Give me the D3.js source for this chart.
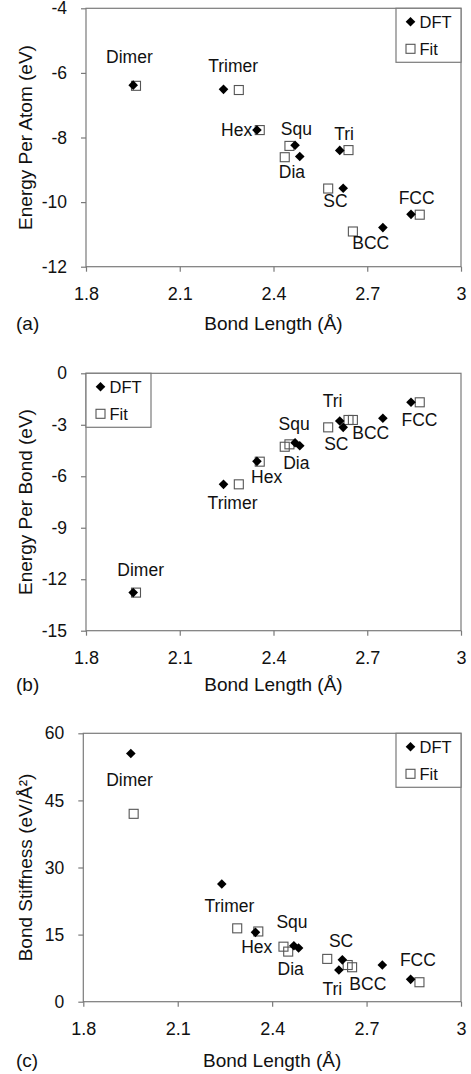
<!DOCTYPE html>
<html>
<head>
<meta charset="utf-8">
<script src="https://cdn.jsdelivr.net/npm/d3@7"></script>
<style>
  body { margin: 0; background: #fff; }
  svg { display: block; font-family: "Liberation Sans", Arial, sans-serif; }
</style>
</head>
<body>
<svg id="chart" width="471" height="1074"></svg>
<script>
// structures, in the same order for every series
const structures = ["Dimer", "Trimer", "Hex", "Squ", "Dia", "Tri", "SC", "BCC", "FCC"];

// bond lengths (Å)
const dftBondLength = [1.951, 2.240, 2.347, 2.469, 2.484, 2.612, 2.623, 2.750, 2.840];
const fitBondLength = [1.960, 2.289, 2.356, 2.451, 2.436, 2.640, 2.575, 2.654, 2.868];

// (a) energy per atom (eV)
const dftEnergyAtom = [-6.38, -6.51, -7.77, -8.24, -8.59, -8.40, -9.57, -10.79, -10.38];
const fitEnergyAtom = [-6.40, -6.53, -7.77, -8.26, -8.61, -8.39, -9.58, -10.91, -10.39];

// (b) energy per bond (eV)
const dftEnergyBond = [-12.78, -6.47, -5.13, -4.05, -4.22, -2.78, -3.15, -2.62, -1.69];
const fitEnergyBond = [-12.78, -6.47, -5.15, -4.14, -4.28, -2.72, -3.15, -2.72, -1.69];

// (c) bond stiffness (eV/Å²)
const dftStiffness = [55.5, 26.3, 15.5, 12.5, 12.0, 7.1, 9.35, 8.2, 5.0];
const fitStiffness = [42.0, 16.4, 15.7, 11.2, 12.3, 8.2, 9.57, 7.7, 4.35];

// tick labels
const xTicks = [1.8, 2.1, 2.4, 2.7, 3];
const yTicksA = [-12, -10, -8, -6, -4];
const yTicksB = [-15, -12, -9, -6, -3, 0];
const yTicksC = [0, 15, 30, 45, 60];

// where each structure name sits, in data units of its panel
const labelPosA = [[1.939, -5.70], [2.271, -5.96], [2.282, -7.94], [2.473, -7.92], [2.459, -9.26],
                   [2.626, -8.08], [2.598, -10.16], [2.711, -11.46], [2.858, -10.07]];
const labelPosB = [[1.975, -11.79], [2.269, -7.91], [2.378, -6.41], [2.466, -3.30], [2.473, -5.59],
                   [2.589, -1.98], [2.601, -4.47], [2.711, -3.83], [2.867, -3.05]];
const labelPosC = [[1.947, 48.2], [2.264, 20.0], [2.351, 10.95], [2.463, 16.4], [2.459, 5.97],
                   [2.591, 1.5], [2.619, 12.3], [2.704, 2.6], [2.863, 8.05]];

const svg = d3.select("#chart");
const axisColor = "#7a7a7a";

const panels = [
  { letter: "(a)", left: 86, right: 461, top: 8.3, bottom: 266.7, yDomain: [-12, -4], yTicks: yTicksA,
    dft: dftEnergyAtom, fit: fitEnergyAtom, labels: labelPosA, ytitle: "Energy Per Atom (eV)",
    titleY: 330, legend: "right" },
  { letter: "(b)", left: 86, right: 461, top: 373.3, bottom: 630.7, yDomain: [-15, 0], yTicks: yTicksB,
    dft: dftEnergyBond, fit: fitEnergyBond, labels: labelPosB, ytitle: "Energy Per Bond (eV)",
    titleY: 691, legend: "left" },
  { letter: "(c)", left: 83.3, right: 461, top: 733.3, bottom: 1001.7, yDomain: [0, 60], yTicks: yTicksC,
    dft: dftStiffness, fit: fitStiffness, labels: labelPosC, ytitle: "Bond Stiffness (eV/Å²)",
    titleY: 1067, legend: "right" }
];

const diamond = r => `M0,${-r}L${r},0L0,${r}L${-r},0Z`;
const plain = d => String(d); // hyphen minus, as in the figure

panels.forEach(p => {
  const g = svg.append("g");

  const xScale = d3.scaleLinear().domain([1.8, 3]).range([p.left, p.right]);
  const yScale = d3.scaleLinear().domain(p.yDomain).range([p.bottom, p.top]);

  // frame around the plot area
  g.append("rect")
    .attr("x", p.left).attr("y", p.top)
    .attr("width", p.right - p.left).attr("height", p.bottom - p.top)
    .attr("fill", "none").attr("stroke", axisColor).attr("stroke-width", 1.2);

  // x axis
  g.append("g")
    .attr("transform", `translate(0,${p.bottom})`)
    .call(d3.axisBottom(xScale).tickValues(xTicks).tickFormat(plain).tickSize(5).tickPadding(16))
    .call(a => a.select(".domain").remove())
    .call(a => a.selectAll(".tick line").attr("stroke", axisColor).attr("stroke-width", 1.2))
    .call(a => a.selectAll(".tick text").attr("fill", "#111").attr("font-size", 18).attr("font-family", null));

  // y axis
  g.append("g")
    .attr("transform", `translate(${p.left},0)`)
    .call(d3.axisLeft(yScale).tickValues(p.yTicks).tickFormat(plain).tickSize(5).tickPadding(14))
    .call(a => a.select(".domain").remove())
    .call(a => a.selectAll(".tick line").attr("stroke", axisColor).attr("stroke-width", 1.2))
    .call(a => a.selectAll(".tick text").attr("fill", "#111").attr("font-size", 17.5).attr("font-family", null));

  // axis titles and panel letter
  g.append("text")
    .attr("x", (p.left + p.right) / 2).attr("y", p.titleY)
    .attr("text-anchor", "middle").attr("font-size", 19).attr("fill", "#111")
    .text("Bond Length (Å)");

  g.append("text")
    .attr("transform", `translate(32,${(p.top + p.bottom) / 2}) rotate(-90)`)
    .attr("text-anchor", "middle").attr("font-size", 19).attr("fill", "#111")
    .text(p.ytitle);

  g.append("text")
    .attr("x", 16).attr("y", p.titleY)
    .attr("font-size", 19).attr("fill", "#111")
    .text(p.letter);

  // fit squares (hollow) under the DFT diamonds
  g.selectAll(".fit")
    .data(structures.map((s, i) => ({ x: fitBondLength[i], y: p.fit[i] })))
    .join("rect")
    .attr("class", "fit")
    .attr("x", d => xScale(d.x) - 4.5).attr("y", d => yScale(d.y) - 4.5)
    .attr("width", 9).attr("height", 9)
    .attr("fill", "none").attr("stroke", "#555").attr("stroke-width", 1.1);

  g.selectAll(".dft")
    .data(structures.map((s, i) => ({ x: dftBondLength[i], y: p.dft[i] })))
    .join("path")
    .attr("class", "dft")
    .attr("d", diamond(4.8))
    .attr("transform", d => `translate(${xScale(d.x)},${yScale(d.y)})`)
    .attr("fill", "#000");

  // structure names
  g.selectAll(".name")
    .data(structures.map((s, i) => ({ name: s, pos: p.labels[i] })))
    .join("text")
    .attr("class", "name")
    .attr("x", d => xScale(d.pos[0])).attr("y", d => yScale(d.pos[1]))
    .attr("text-anchor", "middle").attr("font-size", 17.5).attr("fill", "#111")
    .text(d => d.name);

  // legend
  const lw = 65, lh = 54;
  const lx = p.legend === "right" ? p.right - lw : p.left;
  const leg = g.append("g").attr("transform", `translate(${lx},${p.top})`);
  leg.append("rect").attr("width", lw).attr("height", lh)
    .attr("fill", "#fff").attr("stroke", axisColor).attr("stroke-width", 1.2);
  leg.append("path").attr("d", diamond(4.8)).attr("transform", "translate(14.5,13.5)").attr("fill", "#000");
  leg.append("text").attr("x", 23.5).attr("y", 13.5).attr("dy", "0.36em")
    .attr("font-size", 16.5).attr("fill", "#111").text("DFT");
  leg.append("rect").attr("x", 10).attr("y", 36).attr("width", 9).attr("height", 9)
    .attr("fill", "none").attr("stroke", "#555").attr("stroke-width", 1.1);
  leg.append("text").attr("x", 23.5).attr("y", 40.5).attr("dy", "0.36em")
    .attr("font-size", 16.5).attr("fill", "#111").text("Fit");
});
</script>
</body>
</html>
